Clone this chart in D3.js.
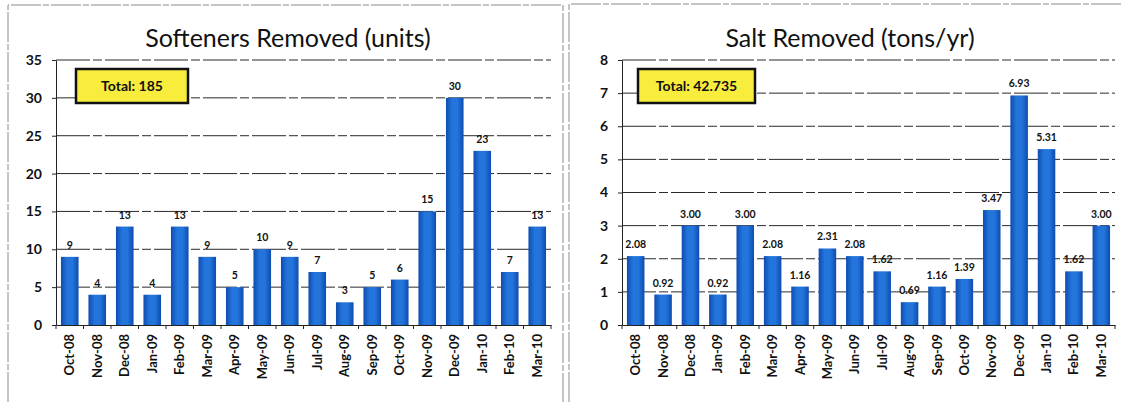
<!DOCTYPE html>
<html>
<head>
<meta charset="utf-8">
<script src="https://cdn.jsdelivr.net/npm/d3@7"></script>
<style>
  body { margin: 0; background: #fff; }
  svg { display: block; font-family: Lato, "Liberation Sans", sans-serif; }
</style>
</head>
<body>
<div id="chart"></div>
<script>
// months shared by both charts
const months = ["Oct-08","Nov-08","Dec-08","Jan-09","Feb-09","Mar-09","Apr-09","May-09","Jun-09",
  "Jul-09","Aug-09","Sep-09","Oct-09","Nov-09","Dec-09","Jan-10","Feb-10","Mar-10"];

const softeners = [9, 4, 13, 4, 13, 9, 5, 10, 9, 7, 3, 5, 6, 15, 30, 23, 7, 13];
const salt = [2.08, 0.92, 3.00, 0.92, 3.00, 2.08, 1.16, 2.31, 2.08, 1.62, 0.69, 1.16, 1.39, 3.47, 6.93, 5.31, 1.62, 3.00];

const softenerTicks = [0, 5, 10, 15, 20, 25, 30, 35];
const saltTicks = [0, 1, 2, 3, 4, 5, 6, 7, 8];

const softenerTotal = "Total: 185";
const saltTotal = "Total: 42.735";

const W = 1121, H = 402;
const svg = d3.select("#chart").append("svg")
  .attr("width", W).attr("height", H);

const defs = svg.append("defs");
const grad = defs.append("linearGradient").attr("id", "barGrad")
  .attr("x1", "0").attr("x2", "1").attr("y1", "0").attr("y2", "0");
grad.append("stop").attr("offset", "0%").attr("stop-color", "#0e4cb0");
grad.append("stop").attr("offset", "35%").attr("stop-color", "#2375dc");
grad.append("stop").attr("offset", "65%").attr("stop-color", "#2375dc");
grad.append("stop").attr("offset", "100%").attr("stop-color", "#0e4cb0");

// panel borders (scanned page frames)
const frame = svg.append("g").attr("stroke", "#8a8a8a").attr("fill", "none");
frame.append("path").attr("d", "M8,402 V5 H563 V402").attr("stroke-dasharray", "30,2,6,2");
frame.append("path").attr("d", "M569,402 V4 H1121").attr("stroke-dasharray", "30,2,6,2");

function drawPanel(opt) {
  const g = svg.append("g");
  const top = 60, bottom = 325;
  const pad = 0.36;

  const x = d3.scaleBand().domain(months)
    .range([opt.left, opt.right])
    .paddingInner(pad).paddingOuter(pad / 2);
  const y = d3.scaleLinear().domain([0, opt.max]).range([bottom, top]);

  // title
  g.append("text")
    .attr("x", opt.titleX).attr("y", 47)
    .attr("text-anchor", "middle")
    .attr("font-size", 25)
    .attr("fill", "#111")
    .text(opt.title);

  // gridlines
  g.append("g").selectAll("line")
    .data(opt.ticks.filter(t => t > 0))
    .join("line")
    .attr("x1", opt.left).attr("x2", opt.right)
    .attr("y1", d => y(d)).attr("y2", d => y(d))
    .attr("stroke", "#2a2a2a")
    .attr("stroke-width", 1)
    .attr("stroke-dasharray", "34,3,9,3");

  // bars
  g.append("g").selectAll("rect")
    .data(opt.values)
    .join("rect")
    .attr("x", (d, i) => x(months[i]))
    .attr("y", d => y(d))
    .attr("width", x.bandwidth())
    .attr("height", d => bottom - y(d))
    .attr("fill", "url(#barGrad)");

  // data labels
  g.append("g").selectAll("text")
    .data(opt.values)
    .join("text")
    .attr("x", (d, i) => x(months[i]) + x.bandwidth() / 2)
    .attr("y", d => y(d) - 8)
    .attr("text-anchor", "middle")
    .attr("font-size", 10.5)
    .attr("font-weight", "bold")
    .attr("fill", "#111")
    .text(d => opt.fmt(d));

  // y axis
  const yAxis = g.append("g")
    .attr("transform", `translate(${opt.left},0)`)
    .call(d3.axisLeft(y).tickValues(opt.ticks).tickSize(4).tickSizeOuter(0).tickPadding(10));
  yAxis.select(".domain").attr("stroke", "#222");
  yAxis.selectAll(".tick line").attr("stroke", "#222");
  yAxis.selectAll(".tick text")
    .attr("font-family", "Lato, sans-serif")
    .attr("font-size", 14)
    .attr("font-weight", "bold")
    .attr("fill", "#111");

  // x axis with ticks at category boundaries
  const xAxis = g.append("g")
    .attr("transform", `translate(0,${bottom})`)
    .call(d3.axisBottom(x).tickSize(0).tickFormat(""));
  xAxis.select(".domain").attr("stroke", "#222");
  const step = x.step();
  xAxis.append("g").selectAll("line")
    .data(d3.range(months.length + 1))
    .join("line")
    .attr("x1", i => opt.left + i * step).attr("x2", i => opt.left + i * step)
    .attr("y1", 0).attr("y2", 4)
    .attr("stroke", "#222");

  // category labels (rotated)
  g.append("g").selectAll("text")
    .data(months)
    .join("text")
    .attr("transform", d => `translate(${x(d) + x.bandwidth() / 2},334) rotate(-90)`)
    .attr("text-anchor", "end")
    .attr("dy", "0.35em")
    .attr("font-size", 13)
    .attr("font-weight", "bold")
    .attr("fill", "#111")
    .text(d => d);

  // total box
  const box = g.append("g");
  box.append("rect")
    .attr("x", opt.box[0]).attr("y", 69)
    .attr("width", opt.box[1]).attr("height", 34)
    .attr("fill", "#f8ec3c")
    .attr("stroke", "#111")
    .attr("stroke-width", 2.5);
  box.append("text")
    .attr("x", opt.box[0] + opt.box[1] / 2).attr("y", 86)
    .attr("dy", "0.35em")
    .attr("text-anchor", "middle")
    .attr("font-size", 14)
    .attr("font-weight", "bold")
    .attr("fill", "#111")
    .text(opt.total);
}

drawPanel({
  left: 56, right: 551, max: 35, ticks: softenerTicks, values: softeners,
  fmt: d => d3.format("d")(d), title: "Softeners Removed (units)", titleX: 288,
  total: softenerTotal, box: [76, 112]
});

drawPanel({
  left: 622, right: 1115, max: 8, ticks: saltTicks, values: salt,
  fmt: d => d3.format(".2f")(d), title: "Salt Removed (tons/yr)", titleX: 850,
  total: saltTotal, box: [638, 117]
});
</script>
</body>
</html>
